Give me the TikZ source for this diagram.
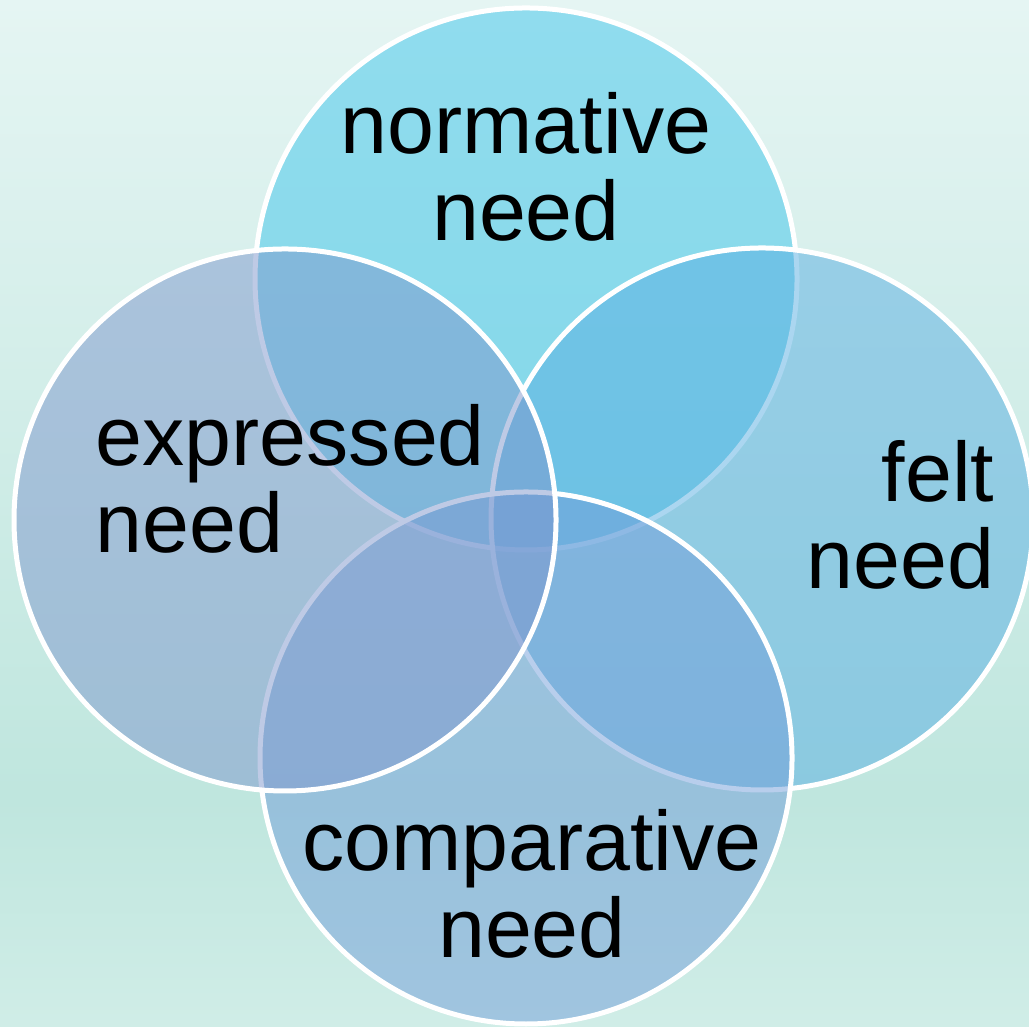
\documentclass[tikz,border=0pt]{standalone}
\usepackage{fontspec}
\setmainfont{Liberation Sans}
\usepackage{tikz}
\usepackage{xcolor}
\usetikzlibrary{positioning, calc}

\definecolor{bgtop}{RGB}{229,245,243}
\definecolor{bgmid}{RGB}{191,230,222}
\definecolor{bgbot}{RGB}{208,237,231}
\definecolor{normfill}{RGB}{61,197,235}
\definecolor{feltfill}{RGB}{88,174,226}
\definecolor{compfill}{RGB}{114,158,218}
\definecolor{explfill}{RGB}{126,151,205}

\begin{document}
\begin{tikzpicture}[
        need_circle/.style={circle, draw=white, line width=0.05cm, fill opacity=0.5, minimum size=5.42cm, inner sep=0pt, outer sep=0pt},
        need_label/.style={font=\fontsize{24}{24.7}\selectfont, inner sep=0pt, text=black}
    ]
    % background
    \useasboundingbox (0,0) rectangle (10.29,10.26);
    \shade[top color=bgtop, bottom color=bgmid] (0,2.26) rectangle (10.29,10.26);
    \shade[top color=bgmid, bottom color=bgbot] (0,0) rectangle (10.29,2.26);

    % circles (back to front)
    \node (normC) [need_circle, fill=normfill] at (5.26,7.47) {};
    \node (feltC) [need_circle, fill=feltfill] at (7.62,5.07) {};
    \node (compC) [need_circle, fill=compfill, minimum size=5.32cm] at (5.26,2.68) {};
    \node (explC) [need_circle, fill=explfill] at (2.85,5.06) {};

    % labels
    \node (normL) [need_label, align=center] at ($(normC)+(0,1.12)$) {normative\\need};
    \node (explL) [need_label, align=left, anchor=west] at ($(explC)+(-1.90,0.41)$) {expressed\\need};
    \node (feltL) [need_label, align=right, anchor=east] at ($(feltC)+(2.33,0.04)$) {felt\\need};
    \node (compL) [need_label, align=center] at ($(compC)+(0.06,-1.26)$) {comparative\\need};
\end{tikzpicture}
\end{document}
